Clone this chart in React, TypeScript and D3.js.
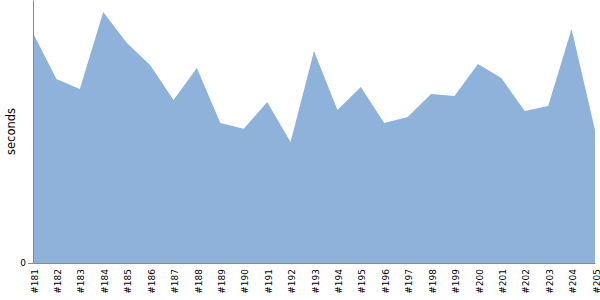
import React, { useEffect, useRef } from "react";
import * as d3 from "d3";

const builds = ["#181","#182","#183","#184","#185","#186","#187","#188","#189","#190","#191","#192","#193","#194","#195","#196","#197","#198","#199","#200","#201","#202","#203","#204","#205"];
const seconds = [87.5,70.0,66.2,95.4,83.7,75.3,62.0,74.1,53.2,51.0,61.2,46.0,80.6,58.2,66.9,53.2,55.5,64.3,63.5,75.7,70.3,57.8,59.7,89.0,50.6];
const yTicks = [0];

const W = 600, H = 300;
const M = { left: 33, right: 5, top: 0, bottom: 37 };

export default function App() {
  const ref = useRef<SVGSVGElement>(null);
  useEffect(() => {
    document.body.style.margin = "0";
    const svg = d3.select(ref.current);
    svg.selectAll("*").remove();
    const x = d3.scalePoint().domain(builds).range([M.left, W - M.right]);
    const y = d3.scaleLinear().domain([0, 100]).range([H - M.bottom, M.top]);
    const font = "'DejaVu Sans', sans-serif";

    const area = d3.area<number>()
      .x((_, i) => x(builds[i])!)
      .y0(y(0))
      .y1((d) => y(d));
    svg.append("path").attr("d", area(seconds)!).attr("fill", "#8fb2da");

    const gx = svg.append("g").attr("transform", `translate(0,${y(0)})`)
      .call(d3.axisBottom(x).tickSize(0).tickPadding(5));
    gx.select(".domain").attr("stroke", "#888");
    gx.selectAll("text")
      .attr("font-family", font).attr("font-size", 9).attr("fill", "#000")
      .attr("text-anchor", "end")
      .attr("transform", "rotate(-90)")
      .attr("x", -6).attr("y", 1).attr("dy", "0.35em");

    const gy = svg.append("g").attr("transform", `translate(${M.left},0)`)
      .call(d3.axisLeft(y).tickValues(yTicks).tickSize(5).tickPadding(2).tickSizeOuter(0));
    gy.select(".domain").attr("stroke", "#888");
    gy.selectAll(".tick line").attr("stroke", "#888");
    gy.selectAll("text").attr("font-family", font).attr("font-size", 9).attr("fill", "#000");

    svg.append("text")
      .attr("transform", `translate(15,${(y(0) + M.top) / 2}) rotate(-90)`)
      .attr("text-anchor", "middle")
      .attr("font-family", font).attr("font-size", 11.5)
      .text("seconds");
  }, []);
  return (
    <div style={{ position: "absolute", left: 0, top: 0 }}>
      <svg ref={ref} width={W} height={H} style={{ display: "block" }} />
    </div>
  );
}
